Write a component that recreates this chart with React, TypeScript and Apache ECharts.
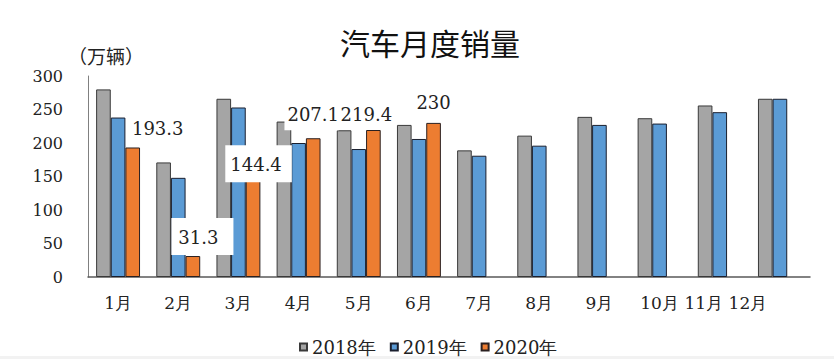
import React, { useEffect, useRef } from "react";
import * as echarts from "echarts";

const months = ["1月", "2月", "3月", "4月", "5月", "6月", "7月", "8月", "9月", "10月", "11月", "12月"];
const seriesNames = ["2018年", "2019年", "2020年"];
const sales2018 = [280, 171, 266, 232, 219, 227, 189, 211, 239, 237, 256, 266];
const sales2019 = [238, 148, 253, 200, 191, 206, 181, 196, 227, 229, 246, 266];
const sales2020: (number | null)[] = [193.3, 31.3, 144.4, 207.1, 219.4, 230, null, null, null, null, null, null];
const yTicks = { min: 0, max: 300, interval: 50 };
const titleText = "汽车月度销量";
const unitText = "（万辆）";

const COLORS = ["#a5a5a5", "#5b9bd5", "#ed7d31"];
const SERIF = "DejaVu Serif";

// label placement tweaks for the 2020 series (style only)
const labelStyles: Record<number, any> = {
  0: { offset: [25, 0], distance: 10 },
  1: { offset: [9.5, 0], distance: 1, backgroundColor: "#fff", padding: [10, 15, 9, 7] },
  2: { offset: [5.5, 0], distance: -2, backgroundColor: "#fff", padding: [10, 10, 9, 5] },
  3: { offset: [-1.5, 0], distance: 8, backgroundColor: "#fff", padding: [7, 0, 7, 3] },
  4: { offset: [-7, 0], distance: 7 },
  5: { offset: [0, 0], distance: 11 },
};

export default function App() {
  const ref = useRef<HTMLDivElement>(null);
  useEffect(() => {
    document.body.style.margin = "0";
    const chart = echarts.init(ref.current!, null, { renderer: "svg" });
    const barBase = {
      type: "bar" as const,
      barGap: "0%",
      barCategoryGap: "27%",
    };
    const option: any = {
      animation: false,
      backgroundColor: "#fff",
      title: {
        text: titleText,
        left: 335,
        top: 22,
        textStyle: { fontFamily: "Noto Sans CJK SC", fontSize: 30, fontWeight: "normal", color: "#111" },
      },
      graphic: [
        {
          type: "text",
          left: 68,
          top: 46,
          style: { text: unitText, font: "19px Noto Sans CJK SC", fill: "#222" },
        },
        {
          type: "rect",
          left: 0,
          bottom: 0,
          shape: { width: 834, height: 3 },
          style: { fill: "#f2f2f2" },
        },
      ],
      legend: {
        left: 294,
        top: 333,
        itemWidth: 7,
        itemHeight: 7,
        itemGap: 14,
        icon: "rect",
        textStyle: { fontFamily: SERIF, fontSize: 18, color: "#222", padding: [6, 0, 0, 0] },
        data: seriesNames,
      },
      grid: { left: 88, right: 24, top: 76, bottom: 82 },
      xAxis: {
        type: "category",
        data: months,
        axisLine: { lineStyle: { color: "#595959", width: 1.5 } },
        axisTick: { show: false },
        axisLabel: {
          interval: 0,
          margin: 17,
          fontFamily: SERIF,
          fontSize: 17,
          color: "#222",
          formatter: (v: string, i: number) => (i === 10 ? `{s1|${v}}` : i === 11 ? `{s2|${v}}` : v),
          rich: {
            s1: { fontFamily: SERIF, fontSize: 17, color: "#222", padding: [0, 32, 0, 0] },
            s2: { fontFamily: SERIF, fontSize: 17, color: "#222", padding: [0, 64, 0, 0] },
          },
        },
      },
      yAxis: {
        type: "value",
        min: yTicks.min,
        max: yTicks.max,
        interval: yTicks.interval,
        axisLine: { show: true, lineStyle: { color: "#808080", width: 1 } },
        axisTick: { show: false },
        splitLine: { show: false },
        axisLabel: { margin: 25, fontFamily: SERIF, fontSize: 16, color: "#222" },
      },
      series: [
        {
          ...barBase,
          name: seriesNames[0],
          data: sales2018,
          itemStyle: { color: COLORS[0], borderColor: "#3a3a3a", borderWidth: 1 },
        },
        {
          ...barBase,
          name: seriesNames[1],
          data: sales2019,
          itemStyle: { color: COLORS[1], borderColor: "#1a1f2e", borderWidth: 1 },
        },
        {
          ...barBase,
          name: seriesNames[2],
          data: sales2020.map((v, i) =>
            v == null ? null : { value: v, label: { show: true, ...(labelStyles[i] || {}) } }
          ),
          itemStyle: { color: COLORS[2], borderColor: "#2a2020", borderWidth: 1 },
          label: {
            show: false,
            position: "top",
            fontFamily: SERIF,
            fontSize: 18,
            color: "#222",
          },
        },
      ],
    };
    chart.setOption(option);
    return () => chart.dispose();
  }, []);
  return <div ref={ref} style={{ width: 834, height: 359 }} />;
}
